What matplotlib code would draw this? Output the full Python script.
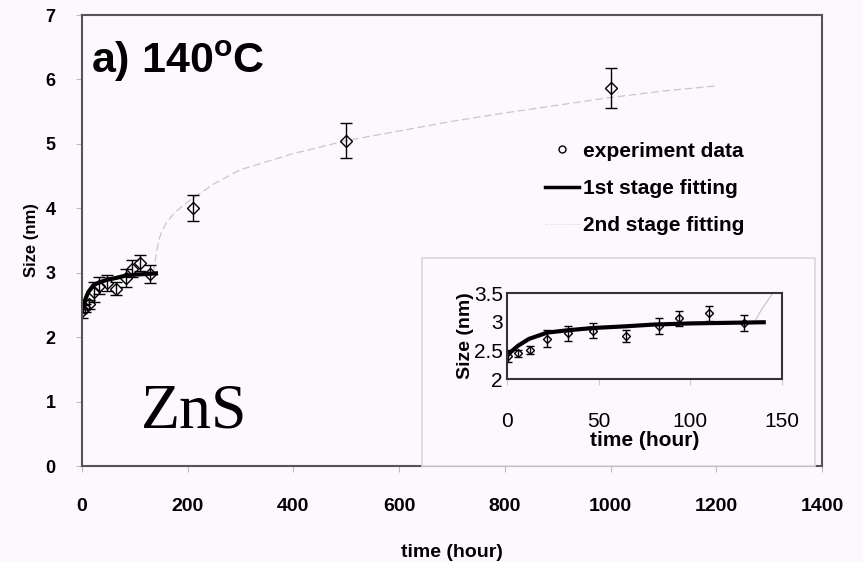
import matplotlib.pyplot as plt
from matplotlib.lines import Line2D
from matplotlib.patches import Rectangle

# experiment data (hour, nm, error)
t_exp = [0.5, 6, 12.5, 22, 33, 47, 65, 83, 94, 110, 129.5, 210, 500, 1000]
size_exp = [2.40, 2.45, 2.51, 2.70, 2.80, 2.84, 2.75, 2.92, 3.06, 3.15, 2.98, 4.00, 5.05, 5.87]
err_exp = [0.10, 0.06, 0.07, 0.15, 0.13, 0.13, 0.10, 0.14, 0.13, 0.13, 0.14, 0.20, 0.27, 0.31]

# 1st stage fitting
t_fit1 = [0, 2, 6, 12, 22, 33, 47, 65, 80, 100, 120, 140]
size_fit1 = [2.40, 2.47, 2.58, 2.70, 2.81, 2.85, 2.89, 2.92, 2.95, 2.97, 2.98, 2.99]

# 2nd stage fitting
t_fit2 = [135, 139, 145, 150, 160, 175, 200, 250, 300, 400, 500, 600, 700, 800, 900, 1000, 1100, 1200]
size_fit2 = [3.00, 3.22, 3.50, 3.62, 3.78, 3.93, 4.10, 4.38, 4.60, 4.85, 5.05, 5.20, 5.35, 5.48, 5.60, 5.72, 5.82, 5.90]

xticks = [0, 200, 400, 600, 800, 1000, 1200, 1400]
yticks = [0, 1, 2, 3, 4, 5, 6, 7]
in_xticks = [0, 50, 100, 150]
in_yticks = [2, 2.5, 3, 3.5]
in_ylabels = ["2", "2.5", "3", "3.5"]

bg = "#fdf8fd"
sans = ["Liberation Sans", "DejaVu Sans"]
plt.rcParams["font.family"] = sans

fig = plt.figure(figsize=(8.63, 5.62), dpi=100)
fig.patch.set_facecolor(bg)

ax = fig.add_axes([0.095, 0.1708, 0.8575, 0.8025])
ax.set_facecolor(bg)
ax.plot(t_fit2, size_fit2, "--", color="#c8c8c8", lw=0.9, dashes=(6, 3))
ax.plot(t_fit1, size_fit1, "-", color="black", lw=3)
ax.errorbar(t_exp, size_exp, yerr=err_exp, fmt="D", ms=6.5, mfc="none", mec="black",
            mew=1.0, ecolor="black", elinewidth=1.0, capsize=4, capthick=1.5)
ax.set_xlim(0, 1400)
ax.set_ylim(0, 7)
ax.set_xticks(xticks)
ax.set_yticks(yticks)
for s in ax.spines.values():
    s.set_color("#555555")
    s.set_linewidth(1.5)
ax.tick_params(axis="x", direction="out", length=4, color="#bbbbbb", pad=19, labelsize=14)
ax.tick_params(axis="y", direction="out", length=4, color="#bbbbbb", pad=15, labelsize=13)
for lab in ax.get_xticklabels() + ax.get_yticklabels():
    lab.set_fontweight("bold")
ax.set_xlabel("time (hour)", fontsize=14, fontweight="bold", labelpad=21)
ax.set_ylabel("Size (nm)", fontsize=12, fontweight="bold", labelpad=5)

ax.text(0.012, 0.948, "a) 140$^\\mathregular{o}$C", transform=ax.transAxes, fontsize=31,
        fontweight="bold", va="top", ha="left")
ax.text(0.08, 0.055, "ZnS", transform=ax.transAxes, fontsize=46,
        family=["Liberation Serif", "DejaVu Serif"], va="bottom", ha="left")

handles = [Line2D([], [], marker="o", ls="none", mfc="none", mec="black", ms=5),
           Line2D([], [], color="black", lw=2.5),
           Line2D([], [], color="#e4e4e4", lw=0.6, ls="--")]
labels = ["experiment data", "1st stage fitting", "2nd stage fitting"]
leg = ax.legend(handles, labels, loc="upper left", bbox_to_anchor=(0.612, 0.742), frameon=False,
                handlelength=1.6, handletextpad=0.2, labelspacing=0.88, borderpad=0,
                prop={"weight": "bold", "size": 15})

# inset chart area frame
fig.patches.append(Rectangle((0.489, 0.1708), 0.455, 0.370, transform=fig.transFigure,
                             facecolor=bg, edgecolor="#d8d8d8", lw=1.2, zorder=2))

ins = fig.add_axes([0.5875, 0.3256, 0.3187, 0.153])
ins.set_zorder(3)
ins.set_facecolor(bg)
ins.plot(t_fit2, size_fit2, "-", color="#c8c8c8", lw=0.9)
ins.plot(t_fit1, size_fit1, "-", color="black", lw=3)
ins.errorbar(t_exp[:11], size_exp[:11], yerr=err_exp[:11], fmt="D", ms=4, mfc="none",
             mec="black", mew=1.0, ecolor="black", elinewidth=1.0, capsize=3, capthick=1.5)
ins.set_xlim(0, 150)
ins.set_ylim(2, 3.5)
ins.set_xticks(in_xticks)
ins.set_yticks(in_yticks)
ins.set_yticklabels(in_ylabels)
for s in ins.spines.values():
    s.set_color("#333333")
    s.set_linewidth(1.5)
ins.tick_params(axis="x", direction="out", length=4, color="#cccccc", pad=20, labelsize=15)
ins.tick_params(axis="y", length=0, pad=3, labelsize=15)
ins.set_xlabel("time (hour)", fontsize=15, fontweight="bold", labelpad=0)
ins.set_ylabel("Size (nm)", fontsize=14, fontweight="bold", labelpad=0)

fig.savefig("out.png", dpi=100, facecolor=bg)
